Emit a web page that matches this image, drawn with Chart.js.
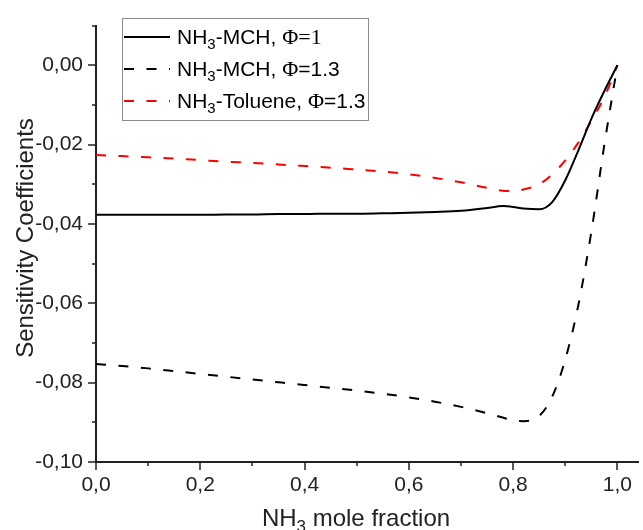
<!DOCTYPE html>
<html lang="en">
<head>
    <meta charset="UTF-8">
    <title>Sensitivity Coefficients</title>
    <style>
        body {
            margin: 0;
            padding: 0;
            background-color: #ffffff;
        }
        #box {
            width: 643px;
            height: 530px;
        }
    </style>
</head>
<body>
    <div id="box"><canvas id="sensChart" width="643" height="530"></canvas></div>
    <script src="https://cdn.jsdelivr.net/npm/chart.js@4.4.1/dist/chart.umd.min.js"></script>
    <script>
        // NH3 mole fraction (x values)
        const molFrac = [0, 0.05, 0.1, 0.15, 0.2, 0.25, 0.3, 0.35, 0.4, 0.45, 0.5, 0.55, 0.6, 0.65, 0.7, 0.75, 0.78, 0.8, 0.82, 0.85, 0.875, 0.9, 0.925, 0.95, 0.975, 1.0];

        // NH3-MCH, phi = 1 (solid black)
        const mchPhi1 = [-0.0377, -0.0377, -0.0377, -0.0377, -0.0377, -0.0376, -0.0376, -0.0375, -0.0375, -0.0374, -0.0374, -0.0373, -0.0372, -0.0370, -0.0367, -0.0360, -0.0355, -0.0357, -0.0361, -0.0363, -0.0345, -0.0290, -0.0215, -0.0135, -0.0065, 0.0];

        // NH3-MCH, phi = 1.3 (dashed black)
        const mchPhi13 = [-0.0753, -0.0758, -0.0764, -0.0771, -0.0778, -0.0785, -0.0792, -0.0799, -0.0806, -0.0813, -0.0820, -0.0828, -0.0837, -0.0848, -0.0861, -0.0877, -0.0888, -0.0895, -0.0897, -0.0884, -0.0835, -0.0742, -0.0605, -0.0420, -0.0200, 0.0];

        // NH3-Toluene, phi = 1.3 (dashed red)
        const tolPhi13 = [-0.0226, -0.0229, -0.0232, -0.0235, -0.0239, -0.0243, -0.0246, -0.0250, -0.0254, -0.0258, -0.0263, -0.0268, -0.0275, -0.0284, -0.0295, -0.0309, -0.0316, -0.0317, -0.0313, -0.0300, -0.0275, -0.0240, -0.0195, -0.0140, -0.0080, 0.0];

        // axis ticks
        const xTickValues = [0, 0.1, 0.2, 0.3, 0.4, 0.5, 0.6, 0.7, 0.8, 0.9, 1.0];
        const xTickLabels = ['0,0', '', '0,2', '', '0,4', '', '0,6', '', '0,8', '', '1,0'];
        const yTickValues = [-0.10, -0.09, -0.08, -0.07, -0.06, -0.05, -0.04, -0.03, -0.02, -0.01, 0.00, 0.01];
        const yTickLabels = ['-0,10', '', '-0,08', '', '-0,06', '', '-0,04', '', '-0,02', '', '0,00', ''];

        const seriesNames = ['NH3-MCH, Φ=1', 'NH3-MCH, Φ=1.3', 'NH3-Toluene, Φ=1.3'];

        const axisColor = '#222222';
        const sans = "'Liberation Sans', Arial, sans-serif";
        const serif = "'Liberation Serif', 'Times New Roman', serif";

        function toPoints(ys) {
            return molFrac.map((x, i) => ({ x: x, y: ys[i] }));
        }

        // draws "NH" + subscript 3 + rest, returns end x
        function drawNH3(ctx, rest, x, base, size) {
            const big = size + 'px ' + sans;
            const sub = Math.round(size * 0.7) + 'px ' + sans;
            ctx.font = big;
            ctx.fillText('NH', x, base);
            x += ctx.measureText('NH').width;
            ctx.font = sub;
            ctx.fillText('3', x, base + size * 0.25);
            x += ctx.measureText('3').width;
            ctx.font = big;
            ctx.fillText(rest, x, base);
            return x + ctx.measureText(rest).width;
        }

        // tick marks, axis titles and legend box with subscripts
        const decorPlugin = {
            id: 'decor',
            afterDraw(chart) {
                const ctx = chart.ctx;
                const xs = chart.scales.x;
                const ys = chart.scales.y;
                const area = chart.chartArea;
                ctx.save();

                // tick marks (major long, minor short)
                ctx.strokeStyle = axisColor;
                ctx.lineWidth = 1.5;
                xTickValues.forEach((v, i) => {
                    const px = Math.round(xs.getPixelForValue(v));
                    const len = xTickLabels[i] ? 8 : 4;
                    ctx.beginPath();
                    ctx.moveTo(px, area.bottom);
                    ctx.lineTo(px, area.bottom + len);
                    ctx.stroke();
                });
                yTickValues.forEach((v, i) => {
                    const py = Math.round(ys.getPixelForValue(v));
                    const len = yTickLabels[i] ? 8 : 4;
                    ctx.beginPath();
                    ctx.moveTo(area.left, py);
                    ctx.lineTo(area.left - len, py);
                    ctx.stroke();
                });

                // x title with subscript, centred
                ctx.fillStyle = axisColor;
                ctx.textBaseline = 'alphabetic';
                ctx.textAlign = 'left';
                ctx.font = '24px ' + sans;
                const wNH = ctx.measureText('NH').width;
                const wRest = ctx.measureText(' mole fraction').width;
                ctx.font = '17px ' + sans;
                const wSub = ctx.measureText('3').width;
                drawNH3(ctx, ' mole fraction', 356 - (wNH + wSub + wRest) / 2, 526, 24);

                // y title
                ctx.save();
                ctx.translate(26, 238);
                ctx.rotate(-Math.PI / 2);
                ctx.textAlign = 'center';
                ctx.textBaseline = 'middle';
                ctx.font = '24px ' + sans;
                ctx.fillText('Sensitivity Coefficients', 0, 0);
                ctx.restore();

                // legend
                ctx.fillStyle = '#ffffff';
                ctx.fillRect(122, 18, 247, 103);
                ctx.strokeStyle = '#8c8c8c';
                ctx.lineWidth = 1;
                ctx.strokeRect(122.5, 18.5, 246, 102);
                const rows = [37, 69, 101];
                chart.data.datasets.forEach((ds, i) => {
                    const ry = rows[i];
                    ctx.strokeStyle = ds.borderColor;
                    ctx.lineWidth = 2;
                    ctx.setLineDash(ds.borderDash || []);
                    ctx.beginPath();
                    ctx.moveTo(124, ry);
                    ctx.lineTo(170, ry);
                    ctx.stroke();
                    ctx.setLineDash([]);

                    // label: NH + sub 3 + rest, phi in serif
                    const afterNH = seriesNames[i].slice(3);
                    const phiIdx = afterNH.indexOf('Φ');
                    const plain = afterNH.slice(0, phiIdx);
                    const phiPart = afterNH.slice(phiIdx);
                    const base = ry + 7;
                    ctx.fillStyle = '#000000';
                    ctx.textAlign = 'left';
                    ctx.textBaseline = 'alphabetic';
                    let x = drawNH3(ctx, plain, 177, base, 21);
                    ctx.font = '22px ' + serif;
                    if (i === 0) {
                        ctx.fillText(phiPart, x, base);
                    } else {
                        ctx.fillText('Φ', x, base);
                        x += ctx.measureText('Φ').width;
                        ctx.font = '21px ' + sans;
                        ctx.fillText(phiPart.slice(1), x, base);
                    }
                });
                ctx.restore();
            }
        };

        const ctx = document.getElementById('sensChart').getContext('2d');
        new Chart(ctx, {
            type: 'line',
            data: {
                datasets: [
                    {
                        label: seriesNames[0],
                        data: toPoints(mchPhi1),
                        borderColor: '#000000',
                        borderWidth: 2,
                        pointRadius: 0,
                        cubicInterpolationMode: 'monotone',
                        fill: false
                    },
                    {
                        label: seriesNames[1],
                        data: toPoints(mchPhi13),
                        borderColor: '#000000',
                        borderWidth: 2,
                        borderDash: [10, 12.5],
                        pointRadius: 0,
                        cubicInterpolationMode: 'monotone',
                        fill: false
                    },
                    {
                        label: seriesNames[2],
                        data: toPoints(tolPhi13),
                        borderColor: '#ff0000',
                        borderWidth: 2,
                        borderDash: [10, 12.5],
                        pointRadius: 0,
                        cubicInterpolationMode: 'monotone',
                        fill: false
                    }
                ]
            },
            options: {
                responsive: false,
                animation: false,
                layout: { padding: { top: 15, right: 0, left: 0, bottom: 0 } },
                plugins: {
                    legend: { display: false },
                    tooltip: { enabled: false }
                },
                scales: {
                    x: {
                        type: 'linear',
                        min: 0,
                        max: 1.04,
                        afterBuildTicks(scale) {
                            scale.ticks = xTickValues.map(v => ({ value: v }));
                        },
                        afterFit(scale) {
                            scale.height = 68;
                        },
                        grid: { display: false, drawTicks: false },
                        border: { display: true, color: axisColor, width: 2 },
                        ticks: {
                            padding: 11,
                            color: axisColor,
                            font: { family: sans, size: 21 },
                            maxRotation: 0,
                            autoSkip: false,
                            callback: (v, i) => xTickLabels[i]
                        }
                    },
                    y: {
                        min: -0.10,
                        max: 0.01,
                        afterBuildTicks(scale) {
                            scale.ticks = yTickValues.map(v => ({ value: v }));
                        },
                        afterFit(scale) {
                            scale.width = 96;
                        },
                        grid: { display: false, drawTicks: false },
                        border: { display: true, color: axisColor, width: 2 },
                        ticks: {
                            padding: 13,
                            color: axisColor,
                            font: { family: sans, size: 21 },
                            autoSkip: false,
                            callback: (v, i) => yTickLabels[i]
                        }
                    }
                }
            },
            plugins: [decorPlugin]
        });
    </script>
</body>
</html>
